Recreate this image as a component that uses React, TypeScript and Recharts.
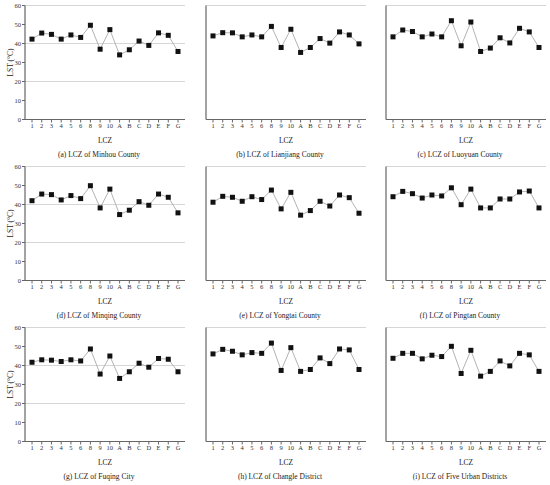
import { LineChart, Line, XAxis, YAxis, CartesianGrid } from 'recharts';

const lcz = ['1', '2', '3', '4', '5', '6', '8', '9', '10', 'A', 'B', 'C', 'D', 'E', 'F', 'G'];
const yTicks = [0, 10, 20, 30, 40, 50, 60];

const minhou = [42.3, 45.5, 44.8, 42.3, 44.5, 43.2, 49.6, 37.0, 47.3, 34.0, 36.7, 41.3, 39.0, 45.6, 44.3, 35.8];
const lianjiang = [44.0, 45.7, 45.6, 43.5, 44.5, 43.5, 49.0, 37.9, 47.5, 35.3, 37.9, 42.6, 40.2, 46.1, 44.5, 39.8];
const luoyuan = [43.5, 47.1, 46.3, 43.5, 45.0, 43.5, 52.0, 38.8, 51.3, 35.8, 37.6, 43.0, 40.3, 48.0, 46.1, 37.9];
const minqing = [42.0, 45.5, 45.2, 42.4, 44.7, 43.1, 49.9, 38.2, 48.1, 34.7, 37.0, 41.5, 39.6, 45.5, 43.8, 35.6];
const yongtai = [41.2, 44.3, 43.8, 41.7, 44.1, 42.6, 47.6, 37.7, 46.4, 34.4, 36.8, 41.7, 39.2, 45.0, 43.6, 35.4];
const pingtan = [44.1, 46.9, 45.7, 43.4, 45.0, 44.5, 48.8, 39.9, 48.1, 38.2, 38.2, 42.9, 42.9, 46.6, 47.1, 38.2];
const fuqing = [41.7, 43.0, 42.8, 42.1, 43.0, 42.4, 48.7, 35.5, 45.0, 33.2, 36.7, 41.2, 39.1, 43.7, 43.3, 36.7];
const changle = [46.1, 48.5, 47.5, 45.6, 46.8, 46.4, 51.8, 37.4, 49.4, 36.9, 37.9, 44.0, 41.0, 48.7, 48.2, 37.9];
const fiveUrban = [43.8, 46.4, 46.4, 43.5, 45.4, 44.7, 50.1, 35.8, 48.0, 34.4, 36.9, 42.4, 39.8, 46.4, 45.6, 36.9];

const panels = [
  { values: minhou, caption: '(a) LCZ of Minhou County' },
  { values: lianjiang, caption: '(b) LCZ of Lianjiang County' },
  { values: luoyuan, caption: '(c) LCZ of Luoyuan County' },
  { values: minqing, caption: '(d) LCZ of Minqing County' },
  { values: yongtai, caption: '(e) LCZ of Yongtai County' },
  { values: pingtan, caption: '(f) LCZ of Pingtan County' },
  { values: fuqing, caption: '(g) LCZ of Fuqing City' },
  { values: changle, caption: '(h) LCZ of Changle District' },
  { values: fiveUrban, caption: '(i) LCZ of Five Urban Districts' },
];

const colLeft = [1, 182, 362];
const rowTop = [0, 161, 322];
const font = '"Liberation Serif", "Times New Roman", serif';

const SquareDot = (props: any) => {
  const { cx, cy, index } = props;
  if (cx == null || cy == null) return null;
  return <rect key={index} x={cx - 2.5} y={cy - 2.5} width={5} height={5} fill="#111" />;
};

function Panel({ values, caption, col, row }: { values: number[]; caption: string; col: number; row: number }) {
  const data = lcz.map((c, i) => ({ lcz: c, lst: values[i] }));
  const left = colLeft[col];
  const top = rowTop[row];
  return (
    <>
      <div style={{ position: 'absolute', left, top }}>
        <LineChart width={184} height={144.5} data={data} margin={{ top: 5.5, right: 0, bottom: 0, left: 0 }}>
          <CartesianGrid vertical={false} stroke="#d6d6d6" strokeWidth={1} shapeRendering="crispEdges" />
          <XAxis
            dataKey="lcz"
            padding={{ left: 7, right: 7 }}
            interval={0}
            height={25}
            tick={{ fontSize: 6.5, fill: '#333', fontFamily: font }}
            tickSize={3}
            tickMargin={1}
            axisLine={{ stroke: '#666', strokeWidth: 1.2 }}
            tickLine={{ stroke: '#666' }}
            label={{ value: 'LCZ', position: 'insideBottom', offset: 2, fontSize: 7.5, fill: '#222', fontFamily: font }}
          />
          <YAxis
            domain={[0, 60]}
            ticks={yTicks}
            width={24}
            tickSize={3}
            tickMargin={1}
            tick={col === 0 ? { fontSize: 6.5, fill: '#333', fontFamily: font } : false}
            axisLine={{ stroke: '#666', strokeWidth: 1.2 }}
            tickLine={{ stroke: '#666' }}
            label={
              col === 0
                ? { value: 'LST (°C)', angle: -90, position: 'insideLeft', offset: 9, fontSize: 7.5, fill: '#222', fontFamily: font, style: { textAnchor: 'middle' } }
                : undefined
            }
          />
          <Line
            type="linear"
            dataKey="lst"
            stroke="#aaa"
            strokeWidth={0.9}
            dot={SquareDot}
            activeDot={false}
            isAnimationActive={false}
          />
        </LineChart>
      </div>
      <div
        style={{
          position: 'absolute',
          left: left + 24 - 6,
          top: top + 150,
          width: 160,
          textAlign: 'center',
          fontFamily: font,
          fontSize: 7.5,
          color: '#222',
          whiteSpace: 'nowrap',
        }}
      >
        {caption}
      </div>
    </>
  );
}

export default function App() {
  return (
    <div style={{ position: 'absolute', left: 0, top: 0, width: 550, height: 485, background: '#fff' }}>
      {panels.map((p, i) => (
        <Panel key={i} values={p.values} caption={p.caption} col={i % 3} row={Math.floor(i / 3)} />
      ))}
    </div>
  );
}
